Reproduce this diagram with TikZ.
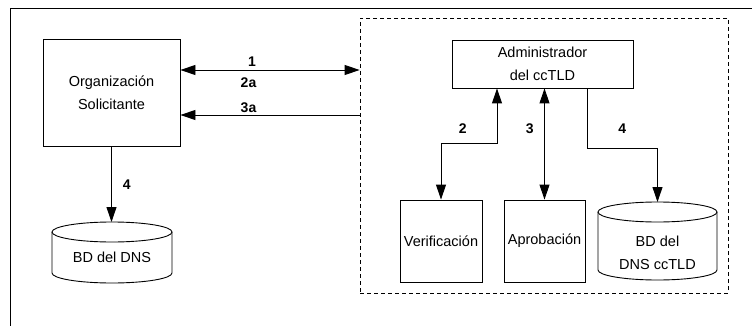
\documentclass[tikz,border=0pt]{standalone}
\usepackage{fontspec}
\setmainfont{Liberation Sans}
\usetikzlibrary{arrows.meta,positioning}

% cylinder outline round a db node: #1 node, #2 half width, #3 rise of the top, #4 drop of the sides
\newcommand\drawdb[4]{%
  \draw ([yshift=#3]#1.center) ellipse [x radius=#2, y radius=10pt];
  \draw ([xshift=-#2, yshift=#3]#1.center) -- ([xshift=-#2, yshift=-#4]#1.center)
    arc [start angle=180, end angle=360, x radius=#2, y radius=10pt]
    -- ([xshift=#2, yshift=#3]#1.center);
}

\begin{document}
\begin{tikzpicture}[x=1pt, y=-1pt, line width=0.9pt,
    every node/.style={font=\fontsize{14.5}{23.5}\selectfont, align=center},
    box/.style={draw, inner sep=1pt},
    db/.style={inner sep=1pt},
    lbl/.style={font=\fontsize{14}{16}\selectfont\bfseries, inner sep=1pt},
    flow/.style={-{Triangle[length=15pt,width=10pt]}},
    both/.style={{Triangle[length=15pt,width=10pt]}-{Triangle[length=15pt,width=10pt]}}]
  \useasboundingbox (0,0) rectangle (752,326);
  % frame, cut off at the right and at the bottom
  \draw[line width=1pt] (10,326) -- (10,9) -- (752,9);

  \node[draw, dash pattern=on 4pt off 3pt, line width=0.8pt,
        minimum width=368pt, minimum height=275pt] (zone) at (544,155.5) {};

  \node[box, minimum width=137pt, minimum height=107pt] (org) at (111.5,92.5) {Organización\\Solicitante};
  \node[box, minimum width=181pt, minimum height=48pt] (admin) at (542.5,64) {Administrador\\del ccTLD};
  \node[box, minimum width=82pt, minimum height=82pt] (verif) at (441,241) {Verificación};
  \node[box, minimum width=81pt, minimum height=82pt] (aprob) at (544.5,241) {Aprobación};

  \node[db] (dbdns) at (112,257) {BD del DNS};
  \drawdb{dbdns}{60pt}{25pt}{16pt}
  \node[db] (dbcc) at (657.5,253) {BD del\\DNS ccTLD};
  \drawdb{dbcc}{59.5pt}{41pt}{17pt}

  \coordinate (dbdns-top) at ([yshift=35pt]dbdns.center);
  \coordinate (dbcc-top) at ([yshift=51pt]dbcc.center);
  \coordinate (m1) at ([yshift=22.5pt]org.east);
  \coordinate (m3) at ([yshift=-22.5pt]org.east);

  \draw[both] (m1) -- (m1 -| zone.west)
    node[lbl, pos=0.4, above=2pt] {1} node[lbl, pos=0.38, below=6pt] {2a};
  \draw[flow] (m3 -| zone.west) -- (m3) node[lbl, pos=0.62, above=1pt] {3a};
  \draw[flow] (org.south) -- (org.south |- dbdns-top) node[lbl, midway, right=10pt] {4};

  \draw[both] (verif.north) -- ++(0,-56) -| ([xshift=-45.5pt]admin.south)
    node[lbl, pos=0.64, left=29pt] {2};
  \draw[both] (aprob.north |- admin.south) -- (aprob.north) node[lbl, pos=0.36, left=9.5pt] {3};
  \draw[flow] ([xshift=44.5pt]admin.south) -- ++(0,60) node[lbl, pos=0.67, right=30pt] {4} -| (dbcc-top);
\end{tikzpicture}
\end{document}
